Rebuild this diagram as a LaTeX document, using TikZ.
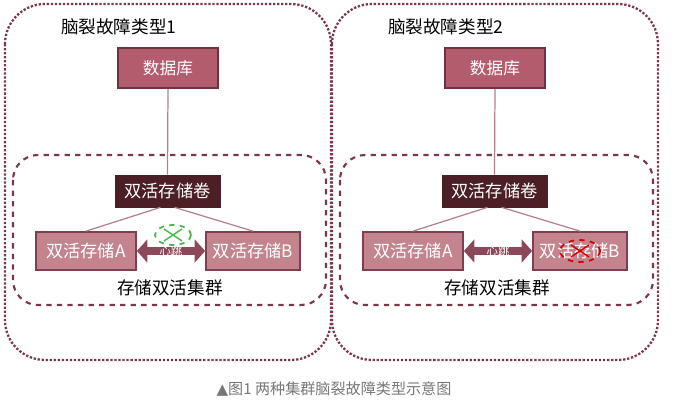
\documentclass[tikz,border=0pt]{standalone}
\usepackage{fontspec}
\setmainfont{Noto Sans CJK SC}
\newfontfamily\symfont{DejaVu Sans}
\usetikzlibrary{arrows.meta}
\definecolor{dbred}{RGB}{178,92,110}
\definecolor{dbedge}{RGB}{110,50,64}
\definecolor{voldark}{RGB}{76,30,38}
\definecolor{nodepink}{RGB}{196,132,142}
\definecolor{nodeedge}{RGB}{128,62,78}
\definecolor{framered}{RGB}{120,56,72}
\definecolor{linkpink}{RGB}{180,128,138}
\definecolor{beatred}{RGB}{140,72,88}
\definecolor{capgray}{RGB}{120,120,120}
\tikzset{
  dbbox/.style={draw=dbedge, fill=dbred, line width=1pt, text=white,
    minimum width=2cm, minimum height=0.8cm, font=\fontsize{9.5}{11}\selectfont},
  volbox/.style={draw=voldark, fill=voldark, text=white,
    minimum width=2.1cm, minimum height=0.64cm, font=\fontsize{9.8}{11}\selectfont},
  sitebox/.style={draw=nodeedge, fill=nodepink, line width=1pt, text=white,
    minimum height=0.76cm, font=\fontsize{9.8}{11}\selectfont},
  outerframe/.style={draw=framered, line width=1.3pt, densely dotted, rounded corners=0.8cm},
  innerframe/.style={draw=framered, line width=1.2pt, dashed, rounded corners=0.5cm},
  link/.style={draw=linkpink, line width=0.7pt},
  beat/.style={beatred, line width=4.5pt, {Triangle[width=13pt,length=6pt]}-{Triangle[width=13pt,length=6pt]}}
}
\begin{document}
\begin{tikzpicture}[x=0.02cm, y=-0.02cm]
    \useasboundingbox (0,0) rectangle (674,403);
    \fill[white] (0,0) rectangle (674,403);
    % Two panels, shifted by 327px
    \foreach \k/\dx in {1/0, 2/327} {
        \begin{scope}[xshift=\dx*0.02cm]
            % Frames
            \draw[outerframe] (5,4) rectangle (331,360);
            \draw[innerframe] (13,155) rectangle (326,305);
            \node[anchor=west, font=\fontsize{10}{12}\selectfont] (title\k) at (55,27) {脑裂故障类型\k};
            % Boxes
            \node[dbbox] (db\k) at (168,68) {数据库};
            \node[volbox] (vol\k) at (167.5,191) {双活存储卷};
            \node[sitebox, minimum width=2cm] (sa\k) at (86,251) {双活存储A};
            \node[sitebox, minimum width=1.88cm] (sb\k) at (253,251) {双活存储B};
            \node[font=\fontsize{10}{12}\selectfont] (clu\k) at (170,288) {存储双活集群};
            % Links
            \draw[link] (db\k.south) -- (vol\k.north);
            \draw[link] ([xshift=-4pt]vol\k.south) -- (sa\k.north);
            \draw[link] ([xshift=4pt]vol\k.south) -- (sb\k.north);
            % Heartbeat
            \draw[beat] (sa\k.east) -- (sb\k.west)
                node[midway, text=white, font=\fontsize{6.5}{7}\selectfont] (hb\k) {心跳};
        \end{scope}
    }
    % Failure marks
    \draw[green!60!black!70, line width=1pt, dashed] (173,235) ellipse (18 and 10);
    \draw[green!60!black!70, line width=0.8pt] (164,229) -- (182,241) (164,241) -- (182,229);
    \draw[red!85!black, line width=1pt, dashed] (580,251) ellipse (20 and 11);
    \draw[red!85!black, line width=0.8pt] (571,245) -- (589,257) (571,257) -- (589,245);
    % Caption
    \node[text=capgray, font=\fontsize{8.6}{10}\selectfont] (cap) at (334,389)
        {{\symfont ▲}图1 两种集群脑裂故障类型示意图};
\end{tikzpicture}
\end{document}
